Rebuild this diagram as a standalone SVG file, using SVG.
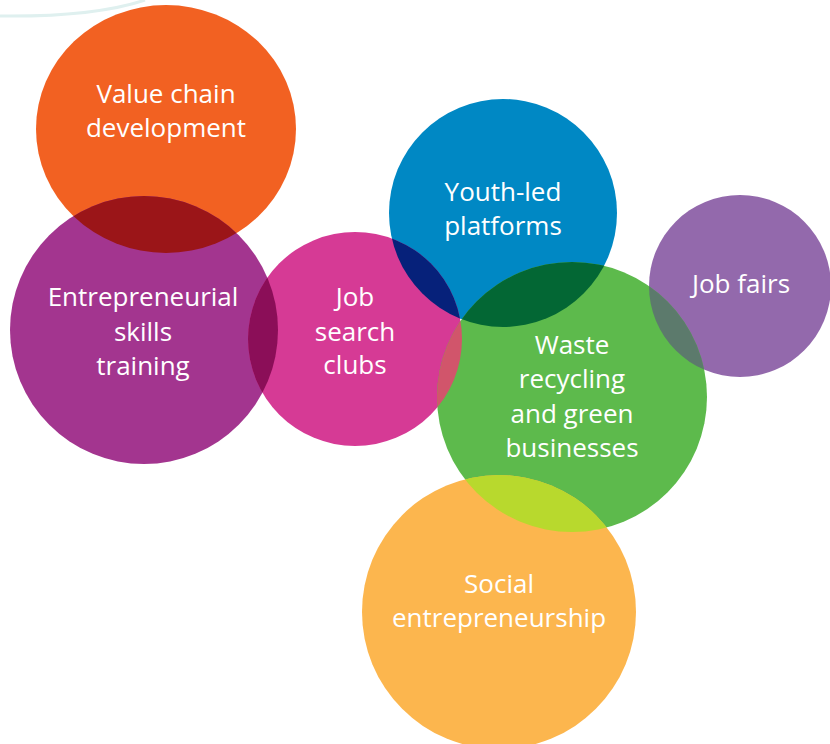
<svg xmlns="http://www.w3.org/2000/svg" width="830" height="744" viewBox="0 0 830 744">
<style>
text{font-family:"Open Sans","Liberation Sans",sans-serif;font-size:26px;fill:#fff;text-anchor:middle}
</style>
<defs>
<ellipse id="cOrange" cx="166" cy="129" rx="130" ry="124"/>
<circle id="cPurple" cx="144" cy="330" r="134"/>
<circle id="cPink" cx="355" cy="339" r="107"/>
<circle id="cBlue" cx="503" cy="213" r="114"/>
<circle id="cGreen" cx="572" cy="397" r="135"/>
<circle id="cFairs" cx="740" cy="286" r="91"/>
<circle id="cSocial" cx="499" cy="612" r="137"/>
<clipPath id="kOrange"><use href="#cOrange"/></clipPath>
<clipPath id="kPurple"><use href="#cPurple"/></clipPath>
<clipPath id="kPink"><use href="#cPink"/></clipPath>
<clipPath id="kBlue"><use href="#cBlue"/></clipPath>
<clipPath id="kGreen"><use href="#cGreen"/></clipPath>
</defs>
<rect width="830" height="744" fill="#fff"/>
<path d="M0,16 Q95,17 145,0" fill="none" stroke="#dff0ef" stroke-width="3"/>
<g id="connectors"/>
<g id="value-chain">
<use href="#cOrange" fill="#f26122"/>
<text x="166" y="103">Value chain</text>
<text x="166" y="137">development</text>
</g>
<g id="entrepreneurial">
<use href="#cPurple" fill="#a3358f"/>
<g clip-path="url(#kOrange)"><use href="#cPurple" fill="#9b1518"/></g>
<text x="143" y="306">Entrepreneurial</text>
<text x="143" y="341">skills</text>
<text x="143" y="375">training</text>
</g>
<g id="youth-led">
<use href="#cBlue" fill="#0088c4"/>
<text x="503" y="201">Youth-led</text>
<text x="503" y="235">platforms</text>
</g>
<g id="job-search">
<use href="#cPink" fill="#d63a95"/>
<g clip-path="url(#kPurple)"><use href="#cPink" fill="#8b0e58"/></g>
<g clip-path="url(#kBlue)"><use href="#cPink" fill="#06217a"/></g>
<text x="355" y="306">Job</text>
<text x="355" y="341">search</text>
<text x="355" y="374">clubs</text>
</g>
<g id="job-fairs">
<use href="#cFairs" fill="#9369ac"/>
<text x="741" y="293">Job fairs</text>
</g>
<g id="waste">
<use href="#cGreen" fill="#5dba4c"/>
<g clip-path="url(#kBlue)"><use href="#cGreen" fill="#036734"/></g>
<g clip-path="url(#kPink)"><use href="#cGreen" fill="#d1556b"/></g>
<g clip-path="url(#kGreen)"><use href="#cFairs" fill="#5c7a6c"/></g>
<text x="572" y="354">Waste</text>
<text x="572" y="388">recycling</text>
<text x="572" y="423">and green</text>
<text x="572" y="457">businesses</text>
</g>
<g id="social">
<use href="#cSocial" fill="#fcb64e"/>
<g clip-path="url(#kGreen)"><use href="#cSocial" fill="#b8d92d"/></g>
<text x="499" y="593">Social</text>
<text x="499" y="627">entrepreneurship</text>
</g>
</svg>
